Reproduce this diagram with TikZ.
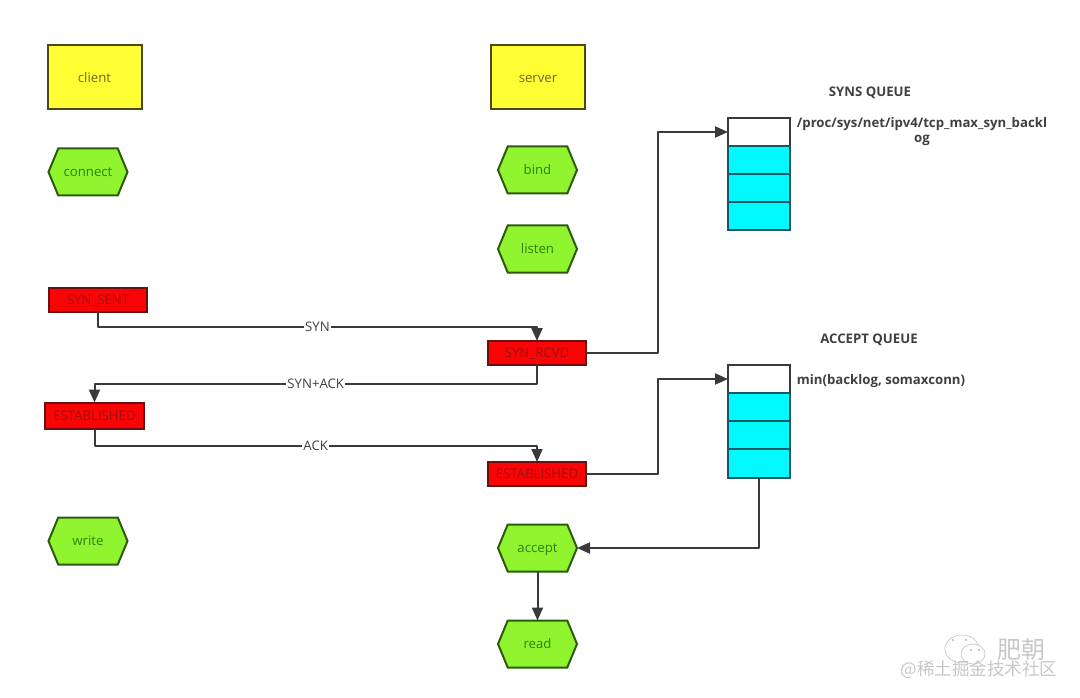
\documentclass[tikz,border=0pt]{standalone}
\usepackage{fontspec}
\setmainfont{Open Sans}
\newfontfamily\cjk{Noto Sans CJK SC}
\usetikzlibrary{arrows.meta,shapes.symbols}
\definecolor{lnk}{HTML}{3A3A3A}
\definecolor{txt}{HTML}{404040}
\definecolor{yfill}{HTML}{FFFF33}
\definecolor{yline}{HTML}{4A4A10}
\definecolor{yt}{HTML}{6A6A20}
\definecolor{gfill}{HTML}{90F52F}
\definecolor{gline}{HTML}{2E5A10}
\definecolor{gt}{HTML}{2F7F10}
\definecolor{rfill}{HTML}{FA0505}
\definecolor{rline}{HTML}{6A1010}
\definecolor{rt}{HTML}{A01010}
\definecolor{cfill}{HTML}{00FAFF}
\definecolor{cline}{HTML}{115A60}
\definecolor{wm}{HTML}{C8C8C8}
\tikzset{
  x=1pt,y=-1pt,
  every node/.style={inner sep=0pt,outer sep=0pt,text height=10.5pt,text depth=1pt,font=\fontsize{13.2}{15}\selectfont},
  yellowbox/.style={draw=yline,fill=yfill,line width=2pt,text=yt,minimum width=94,minimum height=64},
  hexbox/.style={shape=signal,signal to=east and west,signal from=nowhere,signal pointer angle=135,draw=gline,fill=gfill,line width=2pt,text=gt,minimum width=79,minimum height=47},
  statebox/.style={draw=rline,fill=rfill,line width=2pt,text=rt,minimum width=98.5,minimum height=24},
  emptycell/.style={draw=lnk,fill=white,line width=2pt,minimum width=62,minimum height=28},
  cyancell/.style={draw=cline,fill=cfill,line width=2pt,minimum width=62,minimum height=28},
  link/.style={draw=lnk,line width=2pt,line join=round,-{Triangle[length=13pt,width=11pt]}},
  linklabel/.style={fill=white,text=txt,inner xsep=1pt,font=\fontsize{13.2}{15}\selectfont},
  title/.style={text=txt,font=\fontsize{13.2}{15}\selectfont\bfseries},
  mark text/.style={text=wm},
}
\begin{document}
\begin{tikzpicture}
\useasboundingbox (0,0) rectangle (1080,698);
\fill[white] (0,0) rectangle (1080,698);
% client column
\node[yellowbox] (client) at (94.5,77.5) {client};
\node[hexbox] (connect) at (88,172) {connect};
\node[statebox] (synsent) at (98,299.5) {SYN\_SENT};
\node[statebox,minimum height=26] (estc) at (94.5,415.5) {ESTABLISHED};
\node[hexbox] (write) at (88,541) {write};
% server column
\node[yellowbox] (server) at (538,77.5) {server};
\node[hexbox] (bind) at (537.5,170) {bind};
\node[hexbox] (listen) at (537.5,249) {listen};
\node[statebox] (synrcvd) at (537,353) {SYN\_RCVD};
\node[statebox] (ests) at (537,474) {ESTABLISHED};
\node[hexbox] (accept) at (537.5,548) {accept};
\node[hexbox] (read) at (537.5,644) {read};
% syn queue
\node[emptycell] (qa0) at (759,132) {};
\node[cyancell] (qa1) at (759,160) {};
\node[cyancell] (qa2) at (759,188) {};
\node[cyancell] (qa3) at (759,216) {};
% accept queue
\node[emptycell] (qb0) at (759,379) {};
\node[cyancell] (qb1) at (759,407) {};
\node[cyancell] (qb2) at (759,435) {};
\node[cyancell,minimum height=29] (qb3) at (759,463.5) {};
% queue labels
\node[title] (t1) at (870,92) {SYNS QUEUE};
\node[title] (p1) at (922,123) {/proc/sys/net/ipv4/tcp\_max\_syn\_backl};
\node[title] (p2) at (922,138) {og};
\node[title] (t2) at (869,339) {ACCEPT QUEUE};
\node[title] (p3) at (881,380) {min(backlog, somaxconn)};
% bends
\coordinate (b1) at (98,326.5);
\coordinate (b2) at (537,326.5);
\coordinate (b3) at (537,383.5);
\coordinate (b4) at (94.5,383.5);
\coordinate (b5) at (94.5,445.5);
\coordinate (b6) at (537,445.5);
\coordinate (b7) at (657.5,353);
\coordinate (b8) at (657.5,132);
\coordinate (b9) at (657.5,474);
\coordinate (b10) at (657.5,379);
\coordinate (b11) at (758.5,548);
% connectors
\draw[link] (synsent.south -| b1) -- (b1) -- node[linklabel,pos=0.5] {SYN} (b2) -- (synrcvd.north -| b2);
\draw[link] (synrcvd.south -| b3) -- (b3) -- node[linklabel,pos=0.5] {SYN+ACK} (b4) -- (estc.north -| b4);
\draw[link] (estc.south -| b5) -- (b5) -- node[linklabel,pos=0.5] {ACK} (b6) -- (ests.north -| b6);
\draw[link] (synrcvd.east) -- (b7) -- (b8) -- (qa0.west);
\draw[link] (ests.east) -- (b9) -- (b10) -- (qb0.west);
\draw[link] (qb3.south -| b11) -- (b11) -- (accept.east);
\draw[link] (accept.south) -- (read.north);
% watermark
\draw[wm,line width=0.7pt] (962,649) ellipse (17 and 14);
\draw[wm,line width=0.7pt,fill=white] (973,654) ellipse (12 and 10);
\fill[wm] (953,640) circle (1.3) (966,640) circle (1.3) (971,650) circle (1.3) (979,650) circle (1.3);
\node[mark text,font=\cjk\fontsize{24}{26}\selectfont,text height=20pt,text depth=1pt] (wm1) at (1021,649) {肥朝};
\node[mark text,font=\cjk\fontsize{17.5}{20}\selectfont,text height=15pt,text depth=1pt] (wm2) at (979,668) {@稀土掘金技术社区};
\end{tikzpicture}
\end{document}
